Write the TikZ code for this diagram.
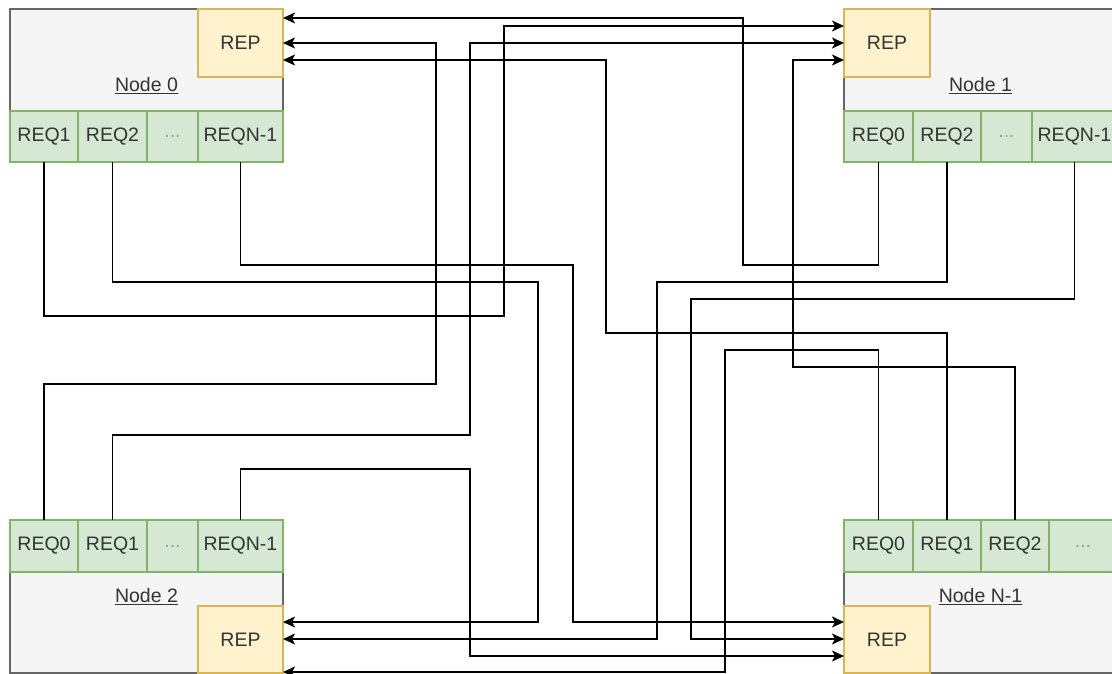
\documentclass[tikz,border=0pt]{standalone}
\usepackage{fontspec}
\setmainfont{Liberation Sans}
\usetikzlibrary{arrows.meta}
\definecolor{gfill}{HTML}{F5F5F5}
\definecolor{gline}{HTML}{666666}
\definecolor{yfill}{HTML}{FFF2CC}
\definecolor{yline}{HTML}{D6B656}
\definecolor{grfill}{HTML}{D5E8D4}
\definecolor{grline}{HTML}{82B366}
\definecolor{txt}{HTML}{333333}
\definecolor{dots}{HTML}{999999}
\tikzset{
  base/.style={rectangle, inner sep=0pt, outer sep=0pt, line width=1.5pt, text=txt, font=\fontsize{19.5}{23}\selectfont},
  nodebox/.style={base, draw=gline, fill=gfill},
  repbox/.style={base, draw=yline, fill=yfill},
  reqbox/.style={base, draw=grline, fill=grfill},
  lbl/.style={inner sep=0pt, text=txt, font=\fontsize{19.5}{23}\selectfont},
  conn/.style={line width=1.5pt, draw=black, -{Stealth[length=12pt,width=11pt,inset=3pt]}},
}
\newcommand\mybox[7]{\node[#1, minimum width={#5-#3}, minimum height={#6-#4}] (#2) at ({(#3+#5)/2},{(#4+#6)/2}) {#7};}
\begin{document}
\begin{tikzpicture}[x=1pt,y=-1pt]
\useasboundingbox (0,0) rectangle (1112,674);
% Node 0
\mybox{nodebox}{n0}{10}{9}{283}{111}{}
\mybox{repbox}{n0rep}{198}{9}{283}{77}{REP}
\mybox{reqbox}{n0req1}{10}{111}{78}{162}{REQ1}
\mybox{reqbox}{n0req2}{78}{111}{147}{162}{REQ2}
\mybox{reqbox}{n0dots}{147}{111}{198}{162}{\textcolor{dots}{...}}
\mybox{reqbox}{n0reqn}{198}{111}{283}{162}{REQN-1}
\node[lbl] (n0lbl) at (146.5,86) {\underline{Node 0}};
% Node 1
\mybox{nodebox}{n1}{844}{9}{1117}{111}{}
\mybox{repbox}{n1rep}{844}{9}{930}{77}{REP}
\mybox{reqbox}{n1req0}{844}{111}{913}{162}{REQ0}
\mybox{reqbox}{n1req2}{913}{111}{981}{162}{REQ2}
\mybox{reqbox}{n1dots}{981}{111}{1032}{162}{\textcolor{dots}{...}}
\mybox{reqbox}{n1reqn}{1032}{111}{1117}{162}{REQN-1}
\node[lbl] (n1lbl) at (980.5,86) {\underline{Node 1}};
% Node 2
\mybox{nodebox}{n2}{10}{572}{283}{673}{}
\mybox{repbox}{n2rep}{198}{606}{283}{673}{REP}
\mybox{reqbox}{n2req0}{10}{520}{78}{572}{REQ0}
\mybox{reqbox}{n2req1}{78}{520}{147}{572}{REQ1}
\mybox{reqbox}{n2dots}{147}{520}{198}{572}{\textcolor{dots}{...}}
\mybox{reqbox}{n2reqn}{198}{520}{283}{572}{REQN-1}
\node[lbl] (n2lbl) at (146.5,597) {\underline{Node 2}};
% Node N-1
\mybox{nodebox}{nn}{844}{572}{1117}{673}{}
\mybox{repbox}{nnrep}{844}{606}{930}{673}{REP}
\mybox{reqbox}{nnreq0}{844}{520}{913}{572}{REQ0}
\mybox{reqbox}{nnreq1}{913}{520}{981}{572}{REQ1}
\mybox{reqbox}{nnreq2}{981}{520}{1049}{572}{REQ2}
\mybox{reqbox}{nndots}{1049}{520}{1117}{572}{\textcolor{dots}{...}}
\node[lbl] (nnlbl) at (980.5,597) {\underline{Node N-1}};
% connectors
\draw[conn] (n0req1.south) |- (504,316) |- (n1rep.west |- 0,26);
\draw[conn] (n0req2.south) |- (538,282) |- (n2rep.east |- 0,622);
\draw[conn] (n0reqn.south) |- (573,265) |- (nnrep.west |- 0,622);
\draw[conn] (n1req0.south) |- (743,265) |- (n0rep.east |- 0,18);
\draw[conn] (n1req2.south) |- (657,282) |- (n2rep.east |- 0,639);
\draw[conn] (n1reqn.south) |- (691,299) |- (nnrep.west |- 0,639);
\draw[conn] (n2req0.north) |- (436,384) |- (n0rep.east |- 0,43);
\draw[conn] (n2req1.north) |- (470,435) |- (n1rep.west |- 0,43);
\draw[conn] (n2reqn.north) |- (470,469) |- (nnrep.west |- 0,656);
\draw[conn] (nnreq0.north) |- (725,350) |- (n2rep.east |- 0,672);
\draw[conn] (nnreq1.north) |- (606,333) |- (n0rep.east |- 0,60);
\draw[conn] (nnreq2.north) |- (793,367) |- (n1rep.west |- 0,60);
\end{tikzpicture}
\end{document}
